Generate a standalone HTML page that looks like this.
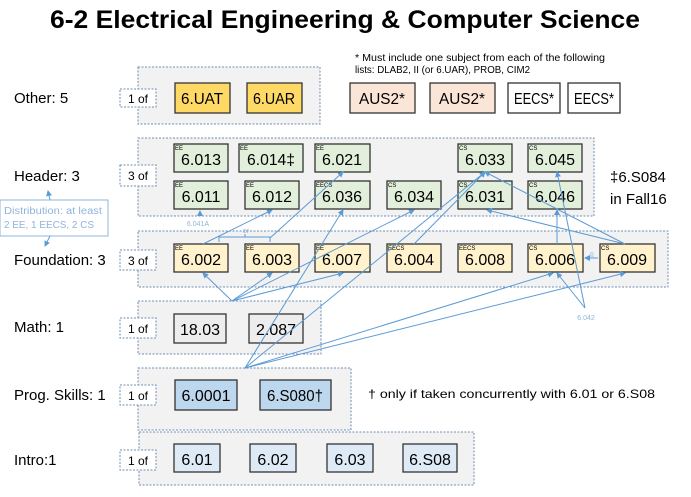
<!DOCTYPE html>
<html><head><meta charset="utf-8"><style>
html,body{margin:0;padding:0;background:#fff}
svg{display:block}
text{font-family:"Liberation Sans",sans-serif}
</style></head><body>
<svg width="691" height="497" viewBox="0 0 691 497" xmlns="http://www.w3.org/2000/svg">
<defs>
<marker id="a" markerWidth="6" markerHeight="6" refX="5" refY="3" orient="auto"><path d="M0,0 L6,3 L0,6 z" fill="#5b9bd5"/></marker>
</defs>
<text x="345" y="28" text-anchor="middle" font-size="25" font-weight="bold" textLength="590" lengthAdjust="spacingAndGlyphs">6-2 Electrical Engineering &amp; Computer Science</text>

<g fill="#f2f2f2" stroke="#6d8fb3" stroke-dasharray="2,1.5" stroke-width="1">
<rect x="138" y="67" width="182" height="57"/>
<rect x="138" y="138" width="456" height="78"/>
<rect x="138" y="231" width="530" height="56"/>
<rect x="138" y="301" width="183" height="53"/>
<rect x="138" y="368" width="213" height="62"/>
<rect x="139" y="432" width="335" height="53"/>
</g>
<g fill="#fff" stroke="#6d8fb3" stroke-dasharray="2,1.5">
<rect x="120" y="89" width="36" height="18"/>
<rect x="120" y="165" width="36" height="21"/>
<rect x="120" y="250" width="36" height="20"/>
<rect x="120" y="318" width="36" height="20"/>
<rect x="120" y="385" width="36" height="20"/>
<rect x="120" y="450" width="36" height="20"/>
</g>
<g font-size="12" text-anchor="middle">
<text x="138" y="103">1 of</text><text x="138" y="180">3 of</text><text x="138" y="265">3 of</text>
<text x="138" y="333">1 of</text><text x="138" y="400">1 of</text><text x="138" y="465">1 of</text>
</g>
<g font-size="15">
<text x="14" y="103">Other: 5</text>
<text x="14" y="181">Header: 3</text>
<text x="14" y="265">Foundation: 3</text>
<text x="14" y="332">Math: 1</text>
<text x="14" y="400">Prog. Skills: 1</text>
<text x="14" y="465">Intro:1</text>
<text x="610" y="182">‡6.S084</text>
<text x="610" y="204">in Fall16</text>
</g>
<text x="355" y="61" font-size="10" textLength="250" lengthAdjust="spacingAndGlyphs">* Must include one subject from each of the following</text>
<text x="355" y="73" font-size="10" textLength="175" lengthAdjust="spacingAndGlyphs">lists: DLAB2, II (or 6.UAR), PROB, CIM2</text>
<text x="368" y="398" font-size="12" textLength="287" lengthAdjust="spacingAndGlyphs">† only if taken concurrently with 6.01 or 6.S08</text>

<rect x="0" y="200" width="108" height="36" fill="#fff" stroke="#8fb4dc"/>
<text x="4" y="214" font-size="10" fill="#8fb4dc" textLength="98" lengthAdjust="spacingAndGlyphs">Distribution: at least</text>
<text x="4" y="228" font-size="10" fill="#8fb4dc" textLength="90" lengthAdjust="spacingAndGlyphs">2 EE, 1 EECS, 2 CS</text>

<g stroke="#333" stroke-width="1.3">
<rect x="175" y="83" width="55" height="30" fill="#ffd966"/>
<rect x="247" y="83" width="55" height="30" fill="#ffd966"/>
<rect x="350" y="83" width="65" height="30" fill="#fbe5d6"/>
<rect x="430" y="83" width="65" height="30" fill="#fbe5d6"/>
<rect x="508" y="83" width="52" height="30" fill="#fff"/>
<rect x="568" y="83" width="52" height="30" fill="#fff"/>
<g fill="#e2efda">
<rect x="174" y="144" width="54" height="28"/><rect x="239" y="144" width="64" height="28"/><rect x="315" y="144" width="55" height="28"/>
<rect x="458" y="144" width="54" height="28"/><rect x="528" y="144" width="54" height="28"/>
<rect x="174" y="181" width="54" height="28"/><rect x="245" y="181" width="54" height="28"/><rect x="315" y="181" width="55" height="28"/>
<rect x="387" y="181" width="54" height="28"/><rect x="458" y="181" width="54" height="28"/><rect x="528" y="181" width="54" height="28"/>
</g>
<g fill="#fff2cc">
<rect x="174" y="244" width="54" height="28"/><rect x="245" y="244" width="54" height="28"/><rect x="315" y="244" width="55" height="28"/>
<rect x="387" y="244" width="54" height="28"/><rect x="458" y="244" width="54" height="28"/><rect x="528" y="244" width="55" height="28"/><rect x="600" y="244" width="55" height="28"/>
</g>
<rect x="174" y="314" width="52" height="29" fill="#ededed"/><rect x="249" y="314" width="54" height="29" fill="#ededed"/>
<rect x="175" y="380" width="62" height="30" fill="#bdd7ee"/><rect x="260" y="380" width="71" height="30" fill="#bdd7ee"/>
<g fill="#deebf7">
<rect x="174" y="444" width="46" height="28"/><rect x="250" y="444" width="46" height="28"/><rect x="327" y="444" width="46" height="28"/><rect x="403" y="444" width="54" height="28"/>
</g>
</g>
<g font-size="16" text-anchor="middle">
<text x="202" y="104" textLength="42" lengthAdjust="spacingAndGlyphs">6.UAT</text><text x="274" y="104" textLength="42" lengthAdjust="spacingAndGlyphs">6.UAR</text>
<text x="382" y="104" textLength="46" lengthAdjust="spacingAndGlyphs">AUS2*</text><text x="462" y="104" textLength="46" lengthAdjust="spacingAndGlyphs">AUS2*</text>
<text x="534" y="104" textLength="40" lengthAdjust="spacingAndGlyphs">EECS*</text><text x="594" y="104" textLength="40" lengthAdjust="spacingAndGlyphs">EECS*</text>
<text x="201" y="165">6.013</text><text x="271" y="165" textLength="48" lengthAdjust="spacingAndGlyphs">6.014‡</text><text x="342" y="165">6.021</text><text x="485" y="165">6.033</text><text x="555" y="165">6.045</text>
<text x="201" y="202">6.011</text><text x="272" y="202">6.012</text><text x="342" y="202">6.036</text><text x="414" y="202">6.034</text><text x="485" y="202">6.031</text><text x="555" y="202">6.046</text>
<text x="201" y="265">6.002</text><text x="272" y="265">6.003</text><text x="342" y="265">6.007</text><text x="414" y="265">6.004</text><text x="485" y="265">6.008</text><text x="555" y="265">6.006</text><text x="627" y="265">6.009</text>
<text x="200" y="335">18.03</text><text x="276" y="335">2.087</text>
<text x="206" y="401">6.0001</text><text x="295" y="401" textLength="56" lengthAdjust="spacingAndGlyphs">6.S080†</text>
<text x="197" y="465">6.01</text><text x="273" y="465">6.02</text><text x="350" y="465">6.03</text><text x="430" y="465">6.S08</text>
</g>
<g font-size="6">
<text x="175" y="150">EE</text><text x="240" y="150">EE</text><text x="316" y="150">EE</text><text x="459" y="150">CS</text><text x="529" y="150">CS</text>
<text x="175" y="187">EE</text><text x="246" y="187">EE</text><text x="316" y="187">EECS</text><text x="388" y="187">CS</text><text x="459" y="187">CS</text><text x="529" y="187">CS</text>
<text x="175" y="250">EE</text><text x="246" y="250">EE</text><text x="316" y="250">EE</text><text x="388" y="250">EECS</text><text x="459" y="250">EECS</text><text x="529" y="250">CS</text><text x="601" y="250">CS</text>
</g>
<g stroke="#5b9bd5" stroke-width="1" fill="none" marker-end="url(#a)">
<line x1="232" y1="301" x2="203" y2="273"/><line x1="232" y1="301" x2="272" y2="273"/><line x1="232" y1="301" x2="343" y2="273"/>
<line x1="232" y1="301" x2="414" y2="210"/>
<line x1="245" y1="368" x2="343" y2="210"/><line x1="245" y1="368" x2="485" y2="172"/>
<line x1="245" y1="368" x2="553" y2="273"/><line x1="245" y1="368" x2="625" y2="273"/>
<line x1="203" y1="244" x2="272" y2="210"/>
<line x1="270" y1="238" x2="343" y2="172"/>
<line x1="414" y1="244" x2="485" y2="172"/>
<line x1="625" y1="244" x2="485" y2="172"/><line x1="625" y1="244" x2="487" y2="210"/>
<line x1="557" y1="244" x2="557" y2="210"/>
<line x1="585" y1="308" x2="557" y2="273"/><line x1="585" y1="308" x2="557" y2="172"/>
<line x1="200" y1="216" x2="200" y2="211"/>
<line x1="50" y1="200" x2="48" y2="191"/><line x1="50" y1="236" x2="45" y2="246"/>
<line x1="598" y1="258" x2="585" y2="258"/>
</g>
<path d="M219,242 V237 H270 V242 M245,237 V234" stroke="#5b9bd5" fill="none"/>
<text x="246" y="233" font-size="7" fill="#8fb4dc" text-anchor="middle">or</text>
<text x="198" y="226" font-size="7" fill="#8fb4dc" text-anchor="middle">6.041A</text>
<text x="586" y="320" font-size="7" fill="#8fb4dc" text-anchor="middle">6.042</text>
<text x="590" y="252" font-size="6" fill="#8fb4dc" transform="rotate(90 590 252)">or</text>
</svg>
</body></html>
